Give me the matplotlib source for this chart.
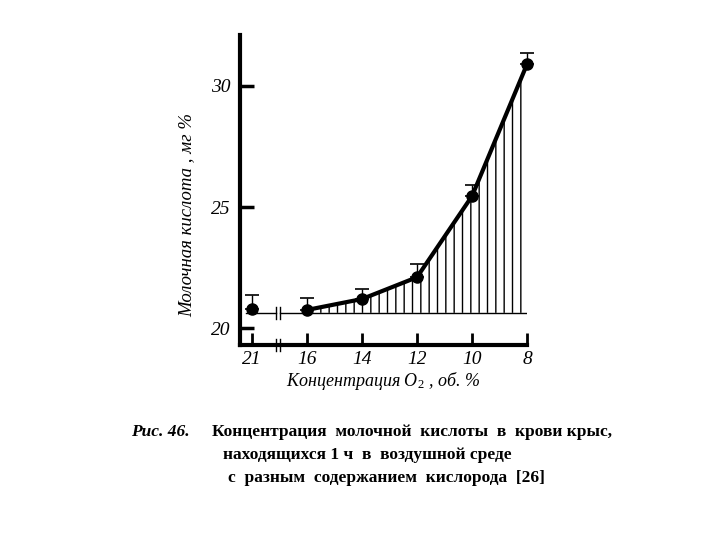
import numpy as np
import matplotlib
matplotlib.use("Agg")
import matplotlib.pyplot as plt

plt.rcParams['font.family'] = ['Liberation Serif', 'DejaVu Serif']
plt.rcParams['mathtext.fontset'] = 'custom'
plt.rcParams['mathtext.rm'] = 'Liberation Serif'
plt.rcParams['mathtext.it'] = 'Liberation Serif:italic'
plt.rcParams['hatch.linewidth'] = 1.0

# data
o2 = [21, 16, 14, 12, 10, 8]
x_pos = [-1, 0, 1, 2, 3, 4]          # broken axis: 21 sits one step left of 16
lactate = [20.8, 20.75, 21.2, 22.1, 25.45, 30.9]
err_up = [0.55, 0.5, 0.4, 0.55, 0.45, 0.45]
baseline = 20.63
yticks = [20, 25, 30]
break_x = -0.53

fig = plt.figure(figsize=(7.2, 5.4), dpi=100)
ax = fig.add_axes([0.333, 0.361, 0.399, 0.574])
ax.set_xlim(-1.22, 4.0)
ax.set_ylim(19.3, 32.1)

# hatched area under the curve (16 -> 8)
ax.fill_between(x_pos[1:], baseline, lactate[1:], facecolor='none',
                edgecolor='black', hatch='||', linewidth=0)

# baseline with break
ax.plot([x_pos[0] - 0.1, break_x - 0.04], [baseline, baseline], color='black', lw=1)
ax.plot([break_x + 0.04, x_pos[-1]], [baseline, baseline], color='black', lw=1)
for dx in (-0.04, 0.04):
    ax.plot([break_x + dx] * 2, [baseline - 0.25, baseline + 0.25], color='black', lw=1)

# curve
ax.plot(x_pos[1:], lactate[1:], color='black', lw=3, clip_on=False)
ax.errorbar(x_pos, lactate, yerr=[np.zeros(len(err_up)), err_up], fmt='o',
            color='black', ms=8, elinewidth=1, capsize=5, capthick=1.2, clip_on=False)

# axes styling
for s in ('top', 'right', 'bottom'):
    ax.spines[s].set_visible(False)
ax.spines['left'].set_linewidth(3)

# bottom axis drawn with break
ax.plot([-1.22, break_x - 0.04], [19.3, 19.3], color='black', lw=3, clip_on=False)
ax.plot([break_x + 0.04, 4.0], [19.3, 19.3], color='black', lw=3, clip_on=False)
for dx in (-0.04, 0.04):
    ax.plot([break_x + dx] * 2, [19.05, 19.55], color='black', lw=1, clip_on=False)

ax.set_yticks(yticks)
ax.set_yticklabels([str(v) for v in yticks], fontstyle='italic', fontsize=14)
ax.tick_params(axis='y', direction='in', length=10, width=2.5, pad=7)
ax.set_xticks(x_pos)
ax.set_xticklabels([str(v) for v in o2], fontstyle='italic', fontsize=14)
ax.tick_params(axis='x', direction='in', length=9, width=2, pad=4)

ax.set_ylabel('Молочная кислота , мг %', fontstyle='italic', fontsize=13.5)
ax.yaxis.set_label_coords(-0.153, 0.42)
ax.set_xlabel('Концентрация O$_{2}$ , об. %', fontstyle='italic', fontsize=13, labelpad=2)

# caption
fig.text(131 / 720, 1 - 432 / 540, 'Рис. 46.', fontstyle='italic', fontweight='bold',
         fontsize=12.5, va='center')
fig.text(212 / 720, 1 - 432 / 540, 'Концентрация  молочной  кислоты  в  крови крыс,',
         fontweight='bold', fontsize=12.5, va='center')
fig.text(223 / 720, 1 - 455 / 540, 'находящихся 1 ч  в  воздушной среде',
         fontweight='bold', fontsize=12.5, va='center')
fig.text(228 / 720, 1 - 478 / 540, 'с  разным  содержанием  кислорода  [26]',
         fontweight='bold', fontsize=12.5, va='center')

fig.savefig('out.png', dpi=100)
